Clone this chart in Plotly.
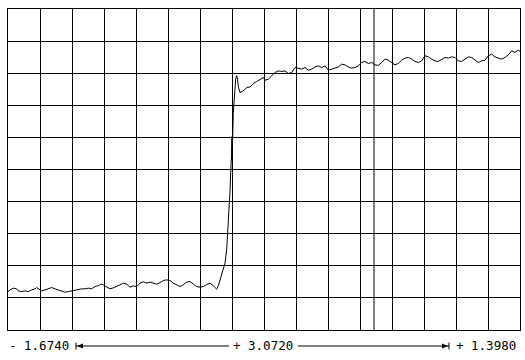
import plotly.graph_objects as go

# ---- data (time axis, signal in divisions) ----
t_low = [-1.674, -1.662, -1.642, -1.622, -1.612, -1.592, -1.572, -1.552, -1.532, -1.512,
         -1.502, -1.492, -1.472, -1.452, -1.432, -1.412, -1.392, -1.372, -1.352, -1.332,
         -1.312, -1.292, -1.272, -1.252, -1.232, -1.212, -1.192, -1.172, -1.152, -1.132,
         -1.112, -1.102, -1.082, -1.062, -1.042, -1.022, -1.002, -0.982, -0.962, -0.942,
         -0.922, -0.902, -0.882, -0.862, -0.842, -0.822, -0.802, -0.782, -0.762, -0.742,
         -0.722, -0.702, -0.682, -0.662, -0.642, -0.622, -0.602, -0.582, -0.562, -0.542,
         -0.522, -0.502, -0.482, -0.462, -0.442, -0.422]
v_low = [1.197, 1.250, 1.303, 1.281, 1.219, 1.197, 1.219, 1.197, 1.250, 1.281,
         1.322, 1.281, 1.219, 1.250, 1.281, 1.322, 1.281, 1.250, 1.219, 1.178,
         1.197, 1.219, 1.250, 1.250, 1.281, 1.281, 1.303, 1.281, 1.353, 1.384,
         1.428, 1.406, 1.353, 1.281, 1.313, 1.353, 1.406, 1.459, 1.428, 1.334,
         1.375, 1.353, 1.459, 1.500, 1.459, 1.491, 1.459, 1.428, 1.478, 1.541,
         1.563, 1.541, 1.459, 1.406, 1.353, 1.416, 1.491, 1.509, 1.428, 1.353,
         1.334, 1.353, 1.416, 1.459, 1.375, 1.272]

t_edge = [-0.412, -0.402, -0.392, -0.382, -0.372, -0.362, -0.351, -0.342, -0.336, -0.333,
          -0.330, -0.331, -0.326, -0.322, -0.316, -0.308, -0.302, -0.297, -0.291]
v_edge = [1.375, 1.563, 1.719, 1.875, 2.084, 2.500, 3.375, 4.313, 5.156, 5.375,
          6.031, 5.313, 6.031, 6.781, 7.281, 7.813, 7.922, 7.813, 7.563]

t_high = [-0.282, -0.262, -0.242, -0.222, -0.202, -0.182, -0.162, -0.142, -0.132, -0.112,
          -0.092, -0.072, -0.052, -0.032, -0.012, 0.008, 0.028, 0.048, 0.068, 0.088,
          0.108, 0.128, 0.148, 0.168, 0.188, 0.208, 0.228, 0.248, 0.268, 0.288,
          0.308, 0.328, 0.348, 0.368, 0.388, 0.408, 0.428, 0.448, 0.468, 0.488,
          0.508, 0.528, 0.548, 0.568, 0.588, 0.608, 0.628, 0.648, 0.668, 0.688,
          0.708, 0.728, 0.748, 0.768, 0.788, 0.808, 0.828, 0.848, 0.868, 0.888,
          0.908, 0.928, 0.948, 0.968, 0.988, 1.008, 1.028, 1.048, 1.068, 1.088,
          1.108, 1.128, 1.148, 1.168, 1.188, 1.208, 1.228, 1.248, 1.268, 1.288,
          1.308, 1.328, 1.348, 1.368, 1.388, 1.398]
v_high = [7.397, 7.447, 7.553, 7.572, 7.678, 7.741, 7.813, 7.866, 7.781, 7.813,
          7.916, 8.022, 8.072, 8.053, 8.072, 7.991, 8.022, 8.178, 8.156, 8.125,
          8.178, 8.094, 8.125, 8.197, 8.228, 8.178, 8.228, 8.094, 8.125, 8.156,
          8.197, 8.281, 8.259, 8.197, 8.156, 8.178, 8.228, 8.334, 8.366, 8.303,
          8.334, 8.259, 8.244, 8.334, 8.438, 8.406, 8.334, 8.259, 8.303, 8.406,
          8.469, 8.491, 8.438, 8.366, 8.334, 8.384, 8.541, 8.509, 8.438, 8.384,
          8.366, 8.438, 8.491, 8.469, 8.509, 8.491, 8.384, 8.366, 8.438, 8.509,
          8.491, 8.406, 8.334, 8.384, 8.406, 8.541, 8.594, 8.509, 8.469, 8.438,
          8.491, 8.572, 8.697, 8.647, 8.719, 8.678]

x_start = -1.674
x_span = 3.072
x_end = 1.398
x_div = 0.192
cursor_t = 0.522
labels = ["- 1.6740", "+ 3.0720", "+ 1.3980"]

t = t_low + t_edge + t_high
v = v_low + v_edge + v_high

fig = go.Figure()
fig.add_trace(go.Scatter(x=t, y=v, mode="lines",
                         line=dict(color="black", width=1), hoverinfo="skip"))

axis_common = dict(showgrid=True, gridcolor="black", gridwidth=1,
                   showline=True, linecolor="black", linewidth=1, mirror=True,
                   zeroline=False, showticklabels=False, ticks="")
fig.update_xaxes(range=[x_start, x_end], tick0=x_start, dtick=x_div, **axis_common)
fig.update_yaxes(range=[0, 10], tick0=0, dtick=1, **axis_common)

shapes = []
# extra cursor line
shapes.append(dict(type="line", xref="x", yref="paper", x0=cursor_t, x1=cursor_t,
                   y0=0, y1=1, line=dict(color="black", width=1)))

ylab = -0.0498
font = dict(family="DejaVu Sans Mono", size=12.5, color="black")
ann = [
    dict(text=labels[0], xref="paper", yref="paper", x=-0.002, y=ylab,
         xanchor="left", yanchor="middle", showarrow=False, font=font),
    dict(text=labels[1], xref="paper", yref="paper", x=0.498, y=ylab,
         xanchor="center", yanchor="middle", showarrow=False, font=font),
    dict(text=labels[2], xref="paper", yref="paper", x=0.997, y=ylab,
         xanchor="right", yanchor="middle", showarrow=False, font=font),
]

lw = dict(color="black", width=1)
# dimension arrow lines
shapes.append(dict(type="line", xref="paper", yref="paper", x0=0.1328, x1=0.4316,
                   y0=ylab, y1=ylab, line=lw))
shapes.append(dict(type="line", xref="paper", yref="paper", x0=0.5664, x1=0.8613,
                   y0=ylab, y1=ylab, line=lw))
# end bars
for xa in (0.1328, 0.8613):
    shapes.append(dict(type="line", xref="paper", yref="paper",
                       xsizemode="pixel", ysizemode="pixel", xanchor=xa, yanchor=ylab,
                       x0=0, x1=0, y0=-3.5, y1=3.5, line=lw))
# arrow heads
shapes.append(dict(type="path", xref="paper", yref="paper",
                   xsizemode="pixel", ysizemode="pixel", xanchor=0.1328, yanchor=ylab,
                   path="M1,0 L7,2.5 L7,-2.5 Z", fillcolor="black", line=dict(width=0)))
shapes.append(dict(type="path", xref="paper", yref="paper",
                   xsizemode="pixel", ysizemode="pixel", xanchor=0.8613, yanchor=ylab,
                   path="M-1,0 L-7,2.5 L-7,-2.5 Z", fillcolor="black", line=dict(width=0)))

fig.update_layout(width=525, height=360,
                  margin=dict(l=8, r=5, t=9, b=30, pad=0),
                  paper_bgcolor="white", plot_bgcolor="white",
                  showlegend=False, shapes=shapes, annotations=ann)

fig.write_html("out.html")
